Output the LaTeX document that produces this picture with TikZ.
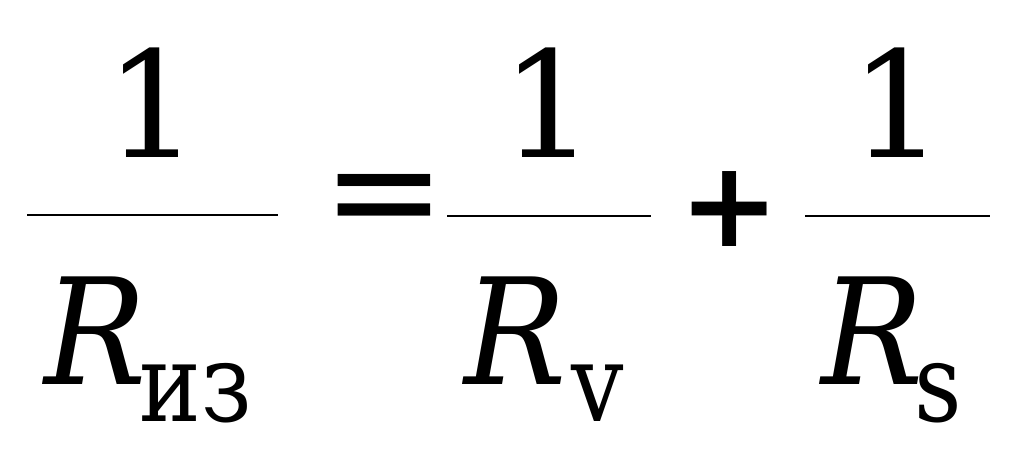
\documentclass[tikz,border=0pt]{standalone}
\usepackage{fontspec}
\setmainfont{DejaVu Serif}
\newfontfamily\opfont{DejaVu Sans}
\newfontfamily\resfont[FakeStretch=0.92]{DejaVu Serif}
\newfontfamily\idxfont[FakeStretch=0.85]{DejaVu Serif}
\begin{document}
\begin{tikzpicture}[x=0.01cm, y=-0.01cm,
    num/.style={inner sep=0pt, anchor=base, font=\fontsize{42}{42}\selectfont},
    res/.style={inner sep=0pt, anchor=base west, font=\fontsize{42}{42}\selectfont\resfont\itshape},
    idx/.style={inner sep=0pt, anchor=base west, font=\fontsize{31}{31}\selectfont\idxfont},
    eqop/.style={inner sep=0pt, font=\fontsize{42}{42}\selectfont\opfont},
    plusop/.style={inner sep=0pt, font=\fontsize{34}{34}\selectfont\opfont\bfseries},
    bar/.style={line width=0.4pt}]
\useasboundingbox (0,0) rectangle (1024,458);

\node[num] (one1) at (152,158) {1};
\node[num] (one2) at (548,158) {1};
\node[num] (one3) at (897,158) {1};

\node[res] (R1) at (44,385) {R};
\node[idx] (s1) at (139,422) {из};
\node[res] (R2) at (464,385) {R};
\node[idx] (s2) at (571,422) {v};
\node[res] (R3) at (821,385) {R};
\node[idx] (s3) at (914,422) {s};

\coordinate (a1) at (27,215);
\coordinate (b1) at (278,215);
\coordinate (a2) at (447,216);
\coordinate (b2) at (651,216);
\coordinate (a3) at (805,216);
\coordinate (b3) at (990,216);
\draw[bar] (a1)--(b1);
\draw[bar] (a2)--(b2);
\draw[bar] (a3)--(b3);

\node[eqop] (eq) at (384,208) {=};
\node[plusop] (plus) at (730,209) {+};

\end{tikzpicture}
\end{document}
